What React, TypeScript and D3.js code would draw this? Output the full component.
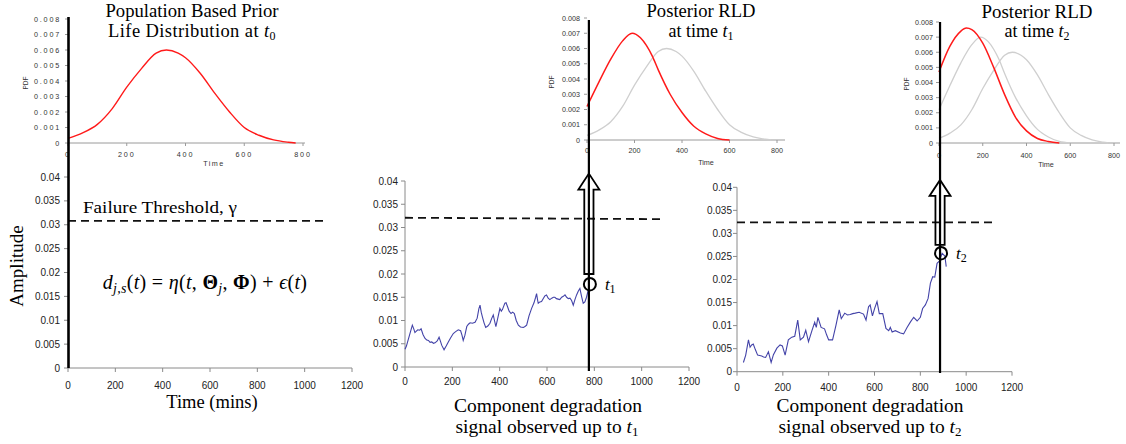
import React from "react";
import * as d3 from "d3";

// ---------------- data ----------------
const pdfYTicks = [0, 0.001, 0.002, 0.003, 0.004, 0.005, 0.006, 0.007, 0.008];
const pdfXTicks = [0, 200, 400, 600, 800];
const ampYTicks = [0, 0.005, 0.01, 0.015, 0.02, 0.025, 0.03, 0.035, 0.04];
const timeXTicks = [0, 200, 400, 600, 800, 1000, 1200];

// population prior life distribution
const priorTime = [0, 50, 100, 150, 200, 250, 300, 335, 375, 400, 450, 500, 550, 600, 650, 700, 750, 775];
const priorPdf = [0.0003, 0.00065, 0.0012, 0.0022, 0.0036, 0.0048, 0.0058, 0.006, 0.0058, 0.0055, 0.0045, 0.0032, 0.002, 0.001, 0.0005, 0.0002, 0.00005, 0];

// posterior RLD at t1
const post1Time = [0, 50, 100, 150, 190, 225, 250, 275, 300, 350, 400, 450, 500, 550, 600];
const post1Pdf = [0.0022, 0.0038, 0.0053, 0.0065, 0.007, 0.0067, 0.0062, 0.0055, 0.0046, 0.003, 0.0018, 0.0009, 0.0004, 0.0001, 0];

// posterior RLD at t2
const post2Time = [0, 50, 100, 125, 150, 200, 250, 300, 350, 400, 450, 500, 550];
const post2Pdf = [0.0047, 0.0064, 0.0074, 0.0076, 0.0075, 0.0066, 0.005, 0.0032, 0.0017, 0.0008, 0.0003, 0.0001, 0];

// degradation signal observed up to t1
const sig1Time = [0, 6, 11, 20, 31, 37, 42, 48, 54, 62, 68, 76, 84, 92, 99, 106, 113, 120, 127, 136, 144, 150, 155, 165, 174, 183, 193, 204, 214, 225, 235, 241, 246, 253, 261, 268, 275, 285, 296, 305, 312, 317, 322, 327, 334, 341, 350, 359, 366, 373, 378, 384, 392, 401, 407, 412, 418, 422, 427, 433, 440, 448, 455, 462, 470, 479, 488, 500, 507, 514, 524, 535, 545, 552, 556, 560, 563, 570, 577, 585, 591, 598, 605, 612, 620, 627, 633, 640, 647, 654, 662, 669, 676, 683, 690, 697, 704, 711, 718, 725, 732, 739, 746, 753, 760, 767, 774];
const sig1Value = [0.0038, 0.0045, 0.0054, 0.007, 0.009, 0.0082, 0.0074, 0.0077, 0.008, 0.0079, 0.0082, 0.007, 0.0062, 0.0058, 0.0057, 0.0053, 0.0054, 0.0051, 0.0052, 0.0056, 0.0064, 0.0055, 0.0047, 0.0037, 0.0045, 0.0054, 0.0063, 0.0072, 0.0076, 0.008, 0.0078, 0.0068, 0.0057, 0.0068, 0.0087, 0.0092, 0.0095, 0.0094, 0.0096, 0.0105, 0.0125, 0.0133, 0.0118, 0.0108, 0.0095, 0.0085, 0.0088, 0.0094, 0.0104, 0.0112, 0.01, 0.0087, 0.0105, 0.0126, 0.012, 0.0124, 0.0132, 0.0137, 0.0138, 0.013, 0.012, 0.0115, 0.0118, 0.0115, 0.01, 0.009, 0.0086, 0.0085, 0.0087, 0.009, 0.011, 0.0126, 0.0138, 0.015, 0.0158, 0.0145, 0.0137, 0.014, 0.0141, 0.0148, 0.0153, 0.0155, 0.0148, 0.0145, 0.0148, 0.015, 0.015, 0.0147, 0.0146, 0.0145, 0.015, 0.0152, 0.0155, 0.015, 0.0147, 0.0148, 0.0143, 0.0133, 0.0145, 0.0155, 0.0163, 0.0169, 0.0152, 0.0137, 0.014, 0.015, 0.0165];

// degradation signal observed up to t2
const sig2Time = [28, 38, 50, 57, 64, 71, 80, 90, 99, 108, 116, 125, 137, 149, 159, 174, 188, 198, 210, 224, 239, 252, 265, 276, 290, 300, 312, 327, 339, 346, 353, 367, 382, 391, 400, 417, 432, 446, 455, 470, 482, 494, 505, 516, 533, 552, 563, 574, 581, 591, 601, 611, 621, 636, 650, 662, 669, 677, 691, 713, 727, 742, 757, 771, 786, 800, 810, 822, 834, 844, 854, 863, 873, 883, 895, 907, 913];
const sig2Value = [0.002, 0.0036, 0.0069, 0.0053, 0.0058, 0.006, 0.0048, 0.0036, 0.0035, 0.0034, 0.0032, 0.0031, 0.0043, 0.002, 0.0037, 0.0051, 0.0058, 0.0056, 0.0036, 0.0069, 0.0075, 0.0077, 0.0112, 0.0069, 0.0075, 0.009, 0.0065, 0.0089, 0.0107, 0.0096, 0.0118, 0.0096, 0.0093, 0.008, 0.0069, 0.0069, 0.0101, 0.0134, 0.0115, 0.0127, 0.0123, 0.0124, 0.0126, 0.0127, 0.0129, 0.0125, 0.0112, 0.0141, 0.0145, 0.0121, 0.0138, 0.0152, 0.0126, 0.0126, 0.0094, 0.0089, 0.0096, 0.0086, 0.0089, 0.0084, 0.0082, 0.0096, 0.0108, 0.0118, 0.011, 0.0118, 0.0137, 0.0145, 0.0159, 0.0192, 0.0206, 0.0205, 0.0235, 0.024, 0.0257, 0.0251, 0.0228];

// failure threshold (start, end) per panel and horizontal extent
const thresholdLeft = [0.0308, 0.0308];
const thresholdMid = [0.0321, 0.0318];
const thresholdRight = [0.0324, 0.0324];
const thresholdEndTime = [1094, 1086, 1130];

// observation times and signal value at the circled point
const t1Time = 777;
const t2Time = 886;
const t1Circle = 0.0178;
const t2Circle = 0.0257;
const t1ArrowBase = 0.02;
const t2ArrowBase = 0.0275;
const arrowTip = 0.0416;

// ---------------- layout ----------------
const SERIF = "'Liberation Serif', 'Times New Roman', serif";
const SANS = "'Liberation Sans', Arial, sans-serif";

type PdfGeom = {
  x0: number; x800: number; yb: number; yt: number; axisEnd: number;
  fs: number; ls: number; labRight: number; xLabBase: number;
  timeX: number; timeY: number; pdfX: number; pdfY: number;
};

function PdfPanel({ g, curves }: { g: PdfGeom; curves: { t: number[]; v: number[]; color: string; w: number }[] }) {
  const x = d3.scaleLinear().domain([0, 800]).range([g.x0, g.x800]);
  const y = d3.scaleLinear().domain([0, 0.008]).range([g.yb, g.yt]);
  const line = d3
    .line<[number, number]>()
    .x((d) => x(d[0]))
    .y((d) => y(d[1]))
    .curve(d3.curveMonotoneX);
  return (
    <g>
      <line x1={g.x0} x2={g.axisEnd} y1={g.yb} y2={g.yb} stroke="#9a9a9a" strokeWidth={1} />
      {pdfXTicks.map((t) => (
        <g key={t}>
          <line x1={x(t)} x2={x(t)} y1={g.yb} y2={g.yb + 3} stroke="#9a9a9a" />
          <text x={x(t)} y={g.xLabBase} textAnchor="middle" fontSize={g.fs} letterSpacing={g.ls} fill="#333">
            {t}
          </text>
        </g>
      ))}
      {pdfYTicks.map((v) => (
        <g key={v}>
          <line x1={g.x0 - 3} x2={g.x0} y1={y(v)} y2={y(v)} stroke="#9a9a9a" />
          <text x={g.labRight} y={y(v)} dy="0.35em" textAnchor="end" fontSize={g.fs} letterSpacing={g.ls} fill="#333">
            {v}
          </text>
        </g>
      ))}
      {curves.map((c, i) => (
        <path key={i} d={line(d3.zip(c.t, c.v) as [number, number][]) || ""} fill="none" stroke={c.color} strokeWidth={c.w} />
      ))}
      <text x={g.timeX} y={g.timeY} textAnchor="middle" fontSize={g.fs} letterSpacing={g.ls * 0.8} fill="#333">
        Time
      </text>
      <text
        transform={`translate(${g.pdfX},${g.pdfY}) rotate(-90)`}
        textAnchor="middle"
        fontSize={6.5}
        fill="#333"
      >
        PDF
      </text>
    </g>
  );
}

type DegGeom = { x0: number; x1200: number; yb: number; yt: number; labRight: number; xLabBase: number; showYAxis: boolean };

function useDegScales(g: DegGeom) {
  const x = d3.scaleLinear().domain([0, 1200]).range([g.x0, g.x1200]);
  const y = d3.scaleLinear().domain([0, 0.04]).range([g.yb, g.yt]);
  return { x, y };
}

function DegPanel({ g, threshold, thrEnd, sig }: { g: DegGeom; threshold: number[]; thrEnd: number; sig?: { t: number[]; v: number[] } }) {
  const { x, y } = useDegScales(g);
  const line = d3
    .line<[number, number]>()
    .x((d) => x(d[0]))
    .y((d) => y(d[1]));
  return (
    <g>
      <line x1={g.x0} x2={g.x1200} y1={g.yb} y2={g.yb} stroke="#8a8a8a" />
      {g.showYAxis && <line x1={g.x0} x2={g.x0} y1={g.yb} y2={g.yt} stroke="#8a8a8a" />}
      {timeXTicks.map((t) => (
        <g key={t}>
          <line x1={x(t)} x2={x(t)} y1={g.yb} y2={g.yb + 4} stroke="#8a8a8a" />
          <text x={x(t)} y={g.xLabBase} textAnchor="middle" fontSize={10} fill="#222">
            {t}
          </text>
        </g>
      ))}
      {ampYTicks.map((v) => (
        <g key={v}>
          <line x1={g.x0 - 4} x2={g.x0} y1={y(v)} y2={y(v)} stroke="#8a8a8a" />
          <text x={g.labRight} y={y(v)} dy="0.35em" textAnchor="end" fontSize={10} fill="#222">
            {v}
          </text>
        </g>
      ))}
      {sig && (
        <path d={line(d3.zip(sig.t, sig.v) as [number, number][]) || ""} fill="none" stroke="#4343a8" strokeWidth={1.1} />
      )}
      <line
        x1={x(0)}
        x2={x(thrEnd)}
        y1={y(threshold[0])}
        y2={y(threshold[1])}
        stroke="#111"
        strokeWidth={1.8}
        strokeDasharray="8 5"
      />
    </g>
  );
}

function Marker({ g, t, circleV, baseV, topY, bottomY, label, sub }: { g: DegGeom; t: number; circleV: number; baseV: number; topY: number; bottomY: number; label: string; sub: string }) {
  const { x, y } = useDegScales(g);
  const cx = x(t);
  const yb = y(baseV);
  const yTip = y(arrowTip);
  const yHead = yTip + 16;
  const sw = 4.6;
  const hw = 10.5;
  const arrow = `M${cx - sw},${yb} L${cx - sw},${yHead} L${cx - hw},${yHead} L${cx},${yTip} L${cx + hw},${yHead} L${cx + sw},${yHead} L${cx + sw},${yb} Z`;
  const cy = y(circleV);
  return (
    <g>
      <line x1={cx} x2={cx} y1={topY} y2={bottomY} stroke="#000" strokeWidth={2.2} />
      <path d={arrow} fill="none" stroke="#000" strokeWidth={1.8} strokeLinejoin="miter" />
      <ellipse cx={cx + 1} cy={cy} rx={6} ry={6.3} fill="none" stroke="#000" strokeWidth={2} />
      <text x={cx + 16} y={cy + 6} fontFamily={SERIF} fontSize={17}>
        <tspan fontStyle="italic">{label}</tspan>
        <tspan fontSize={12} dy={3}>
          {sub}
        </tspan>
      </text>
    </g>
  );
}

const pdfLeft: PdfGeom = { x0: 68, x800: 303, yb: 143, yt: 19, axisEnd: 305, fs: 7.2, ls: 1.8, labRight: 61, xLabBase: 157, timeX: 214, timeY: 166, pdfX: 28, pdfY: 83 };
const pdfMid: PdfGeom = { x0: 587, x800: 777, yb: 140, yt: 18, axisEnd: 785, fs: 7.2, ls: 0, labRight: 580, xLabBase: 153, timeX: 706, timeY: 165, pdfX: 554, pdfY: 82 };
const pdfRight: PdfGeom = { x0: 939, x800: 1114, yb: 143, yt: 22, axisEnd: 1120, fs: 7.2, ls: 0, labRight: 933, xLabBase: 158, timeX: 1046, timeY: 167, pdfX: 909, pdfY: 84 };

const degLeft: DegGeom = { x0: 68, x1200: 352, yb: 368, yt: 177, labRight: 60, xLabBase: 389, showYAxis: false };
const degMid: DegGeom = { x0: 405, x1200: 689, yb: 367, yt: 181, labRight: 398, xLabBase: 385, showYAxis: true };
const degRight: DegGeom = { x0: 737, x1200: 1012, yb: 371.7, yt: 187.3, labRight: 732, xLabBase: 391, showYAxis: true };

export default function App() {
  return (
    <svg
      width={1126}
      height={444}
      style={{ position: "absolute", left: 0, top: 0, display: "block" }}
      fontFamily={SANS}
    >
      <rect x={0} y={0} width={1126} height={444} fill="#fff" />

      {/* top PDF panels */}
      <PdfPanel g={pdfLeft} curves={[{ t: priorTime, v: priorPdf, color: "#ff1a1a", w: 1.4 }]} />
      <PdfPanel
        g={pdfMid}
        curves={[
          { t: priorTime, v: priorPdf, color: "#cfcfcf", w: 1.3 },
          { t: post1Time, v: post1Pdf, color: "#ff1a1a", w: 1.5 },
        ]}
      />
      <PdfPanel
        g={pdfRight}
        curves={[
          { t: priorTime, v: priorPdf, color: "#cfcfcf", w: 1.3 },
          { t: post1Time, v: post1Pdf, color: "#cfcfcf", w: 1.3 },
          { t: post2Time, v: post2Pdf, color: "#ff1a1a", w: 1.5 },
        ]}
      />

      {/* bottom degradation panels */}
      <DegPanel g={degLeft} threshold={thresholdLeft} thrEnd={thresholdEndTime[0]} />
      <DegPanel g={degMid} threshold={thresholdMid} thrEnd={thresholdEndTime[1]} sig={{ t: sig1Time, v: sig1Value }} />
      <DegPanel g={degRight} threshold={thresholdRight} thrEnd={thresholdEndTime[2]} sig={{ t: sig2Time, v: sig2Value }} />

      {/* thick time-zero line in the left column */}
      <line x1={68.5} x2={68.5} y1={17} y2={368} stroke="#000" strokeWidth={2.6} />

      <Marker g={degMid} t={t1Time} circleV={t1Circle} baseV={t1ArrowBase} topY={20} bottomY={371} label="t" sub="1" />
      <Marker g={degRight} t={t2Time} circleV={t2Circle} baseV={t2ArrowBase} topY={22} bottomY={373} label="t" sub="2" />

      {/* titles */}
      <g fontFamily={SERIF} fontSize={18} fill="#000">
        <text x={192} y={17} textAnchor="middle" textLength={173} lengthAdjust="spacingAndGlyphs">
          Population Based Prior
        </text>
        <text x={192} y={37} textAnchor="middle" fontSize={18.5} letterSpacing={0.4}>
          <tspan>Life Distribution at </tspan>
          <tspan fontStyle="italic">t</tspan>
          <tspan fontSize={12} dy={3}>0</tspan>
        </text>
        <text x={701} y={17} textAnchor="middle" textLength={109} lengthAdjust="spacingAndGlyphs">
          Posterior RLD
        </text>
        <text x={701} y={37} textAnchor="middle">
          <tspan>at time </tspan>
          <tspan fontStyle="italic">t</tspan>
          <tspan fontSize={12} dy={3}>1</tspan>
        </text>
        <text x={1037} y={18} textAnchor="middle" textLength={111} lengthAdjust="spacingAndGlyphs">
          Posterior RLD
        </text>
        <text x={1037} y={37} textAnchor="middle">
          <tspan>at time </tspan>
          <tspan fontStyle="italic">t</tspan>
          <tspan fontSize={12} dy={3}>2</tspan>
        </text>
      </g>

      {/* left panel annotations */}
      <g fontFamily={SERIF} fill="#000">
        <text x={83} y={213} fontSize={17} textLength={154} lengthAdjust="spacingAndGlyphs">
          Failure Threshold, γ
        </text>
        <text x={205} y={289} fontSize={20} textAnchor="middle" letterSpacing={0.3}>
          <tspan fontStyle="italic">d</tspan>
          <tspan fontStyle="italic" fontSize={14} dy={4}>j,s</tspan>
          <tspan dy={-4}>(</tspan>
          <tspan fontStyle="italic">t</tspan>
          <tspan>{") = "}</tspan>
          <tspan fontStyle="italic">η</tspan>
          <tspan>{"("}</tspan>
          <tspan fontStyle="italic">t</tspan>
          <tspan>{", "}</tspan>
          <tspan fontWeight="bold">Θ</tspan>
          <tspan fontStyle="italic" fontSize={14} dy={4}>j</tspan>
          <tspan dy={-4}>{", "}</tspan>
          <tspan fontWeight="bold">Φ</tspan>
          <tspan>{") + "}</tspan>
          <tspan fontStyle="italic">ϵ</tspan>
          <tspan>(</tspan>
          <tspan fontStyle="italic">t</tspan>
          <tspan>)</tspan>
        </text>
        <text transform="translate(23,266) rotate(-90)" textAnchor="middle" fontSize={19}>
          Amplitude
        </text>
        <text x={212} y={408} textAnchor="middle" fontSize={18.5}>
          Time (mins)
        </text>
      </g>

      {/* bottom captions */}
      <g fontFamily={SERIF} fontSize={19.5} fill="#000">
        <text x={548} y={412} textAnchor="middle" textLength={188} lengthAdjust="spacingAndGlyphs">
          Component degradation
        </text>
        <text x={547} y={433} textAnchor="middle">
          <tspan>signal observed up to </tspan>
          <tspan fontStyle="italic">t</tspan>
          <tspan fontSize={13} dy={3}>1</tspan>
        </text>
        <text x={870} y={412} textAnchor="middle" textLength={187} lengthAdjust="spacingAndGlyphs">
          Component degradation
        </text>
        <text x={870} y={433} textAnchor="middle">
          <tspan>signal observed up to </tspan>
          <tspan fontStyle="italic">t</tspan>
          <tspan fontSize={13} dy={3}>2</tspan>
        </text>
      </g>
    </svg>
  );
}
